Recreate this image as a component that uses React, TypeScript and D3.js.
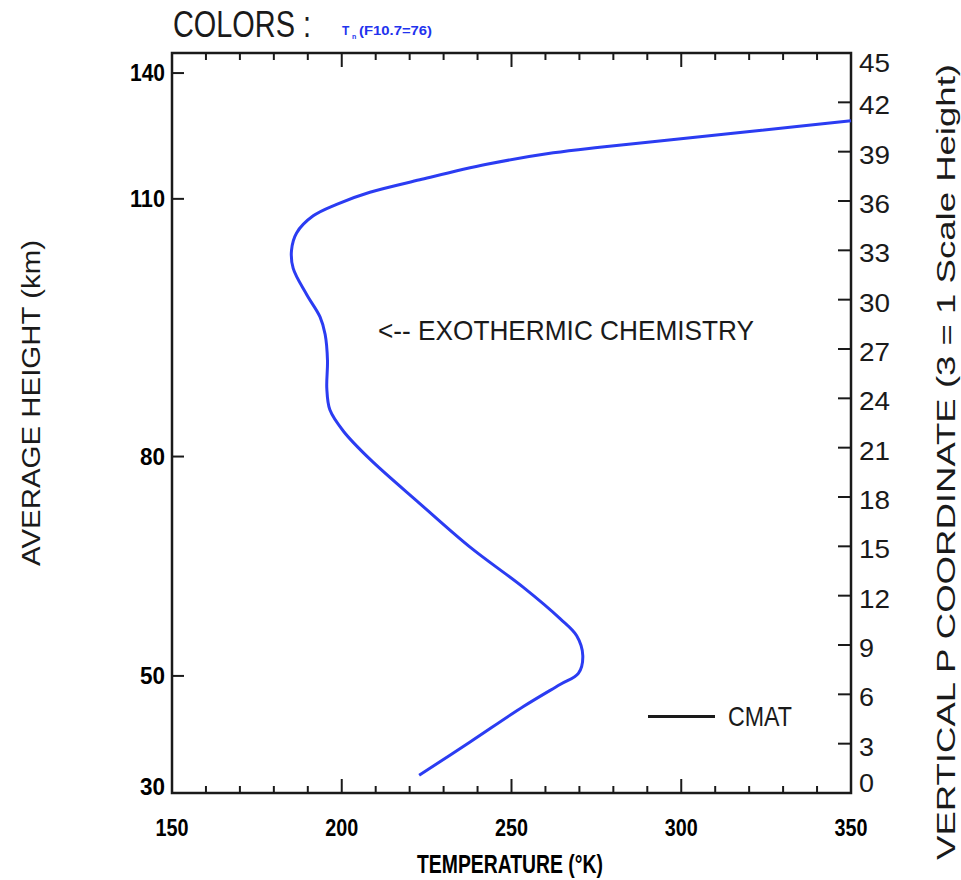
import React from "react";
import * as d3 from "d3";

// Temperature profile: vertical pressure coordinate vs temperature (K)
const pCoord = [
  1.08, 3.1, 5.26, 6.6, 7.27, 8.35, 9.56, 10.6, 12.5, 14.95, 17.6, 20.3, 22.0,
  23.3, 24.6, 26.3, 27.9, 28.95, 30.3, 31.9, 33.0, 34.06, 35.1, 35.8, 36.53,
  37.29, 38.23, 38.93, 39.27, 39.9, 40.29, 40.88,
];
const tempK = [
  222.8, 237.8, 253.5, 264.3, 269.7, 271.0, 269.2, 264.3, 253.5, 237.8, 223.0,
  208.3, 200.5, 196.5, 195.6, 195.8, 195.1, 193.6, 189.7, 185.7, 185.2, 186.7,
  191.6, 198.5, 208.3, 223.0, 242.7, 262.3, 276.0, 305.5, 323.0, 350.0,
];

// Axis ticks
const tempTicks = [150, 200, 250, 300, 350];
const tempMinor = d3.range(150, 351, 10);
const pTicks = d3.range(0, 46, 3);
const heightTicks = [30, 50, 80, 110, 140];
const heightTickP = [0, 7.12, 20.46, 36.13, 43.78];

const W = 961;
const H = 880;
const left = 172;
const right = 851;
const top = 53;
const bottom = 793;

const x = d3.scaleLinear().domain([150, 350]).range([left, right]);
const y = d3.scaleLinear().domain([0, 45]).range([bottom, top]);

const profile = pCoord.map((p, i) => ({ p, t: tempK[i] }));
const line = d3
  .line<{ p: number; t: number }>()
  .x((d) => x(d.t))
  .y((d) => y(d.p))
  .curve(d3.curveCatmullRom.alpha(0.5));

const thin = "'Liberation Sans', Arial, sans-serif";
const ink = "#1a1a1a";

export default function App() {
  return (
    <svg
      width={W}
      height={H}
      viewBox={`0 0 ${W} ${H}`}
      style={{ position: "absolute", left: 0, top: 0, background: "#fff" }}
    >
      {/* header */}
      <text
        transform="translate(173,37) scale(1,1.3)"
        fontFamily={thin}
        fontSize={28}
        fill={ink}
        textLength={138}
        lengthAdjust="spacingAndGlyphs"
      >
        COLORS :
      </text>
      <text x={342} y={35} fontFamily={thin} fontSize={12} fontWeight="bold" fill="#2233ee">
        T
      </text>
      <text x={352} y={39} fontFamily={thin} fontSize={7} fontWeight="bold" fill="#2233ee">
        n
      </text>
      <text
        x={359}
        y={35}
        fontFamily={thin}
        fontSize={12}
        fontWeight="bold"
        fill="#2233ee"
        textLength={73}
        lengthAdjust="spacingAndGlyphs"
      >
        (F10.7=76)
      </text>

      {/* frame */}
      <rect
        x={left}
        y={top}
        width={right - left}
        height={bottom - top}
        fill="none"
        stroke={ink}
        strokeWidth={2.5}
      />

      {/* bottom and top temperature ticks */}
      {tempMinor.map((t) => {
        const major = tempTicks.includes(t);
        const len = major ? 14 : 7;
        return (
          <g key={t}>
            <line x1={x(t)} x2={x(t)} y1={bottom} y2={bottom - len} stroke={ink} strokeWidth={2} />
            <line x1={x(t)} x2={x(t)} y1={top} y2={top + len} stroke={ink} strokeWidth={2} />
          </g>
        );
      })}
      {tempTicks.map((t) => (
        <text
          key={t}
          x={x(t)}
          y={836}
          textAnchor="middle"
          fontFamily={thin}
          fontWeight="bold"
          fontSize={24}
          fill="#000"
          textLength={33}
          lengthAdjust="spacingAndGlyphs"
        >
          {t}
        </text>
      ))}
      <text
        x={417}
        y={873}
        fontFamily={thin}
        fontWeight="bold"
        fontSize={25}
        fill="#000"
        textLength={186}
        lengthAdjust="spacingAndGlyphs"
      >
        TEMPERATURE (°K)
      </text>

      {/* left height axis */}
      {heightTicks.map((h, i) => {
        const yy = y(heightTickP[i]);
        const ly = i === 0 ? yy - 6 : yy;
        return (
          <g key={h}>
            {i > 0 && (
              <line x1={left} x2={left + 12} y1={yy} y2={yy} stroke={ink} strokeWidth={2} />
            )}
            <text
              x={165}
              y={ly + 8}
              textAnchor="end"
              fontFamily={thin}
              fontWeight="bold"
              fontSize={24}
              fill="#000"
              textLength={String(h).length === 3 ? 35 : 25}
              lengthAdjust="spacingAndGlyphs"
            >
              {h}
            </text>
          </g>
        );
      })}
      <text
        transform="translate(40,403) rotate(-90)"
        textAnchor="middle"
        fontFamily={thin}
        fontSize={26}
        fill={ink}
        textLength={326}
        lengthAdjust="spacingAndGlyphs"
      >
        AVERAGE HEIGHT (km)
      </text>

      {/* right pressure-coordinate axis */}
      {pTicks.map((p) => {
        const yy = y(p);
        const ly = p === 0 ? yy - 10 : p === 45 ? yy + 10 : yy + 3;
        return (
          <g key={p}>
            {p > 0 && p < 45 && (
              <line x1={right} x2={right - 13} y1={yy} y2={yy} stroke={ink} strokeWidth={2} />
            )}
            <text
              x={859}
              y={ly + 9}
              fontFamily={thin}
              fontSize={26}
              fill={ink}
              textLength={String(p).length === 2 ? 31 : 15}
              lengthAdjust="spacingAndGlyphs"
            >
              {p}
            </text>
          </g>
        );
      })}
      <text
        transform="translate(955,462) rotate(-90)"
        textAnchor="middle"
        fontFamily={thin}
        fontSize={26}
        fill={ink}
        textLength={796}
        lengthAdjust="spacingAndGlyphs"
      >
        VERTICAL P COORDINATE (3 = 1 Scale Height)
      </text>

      {/* profile */}
      <path d={line(profile) ?? ""} fill="none" stroke="#2b3cf2" strokeWidth={3} strokeLinejoin="round" />

      {/* annotation */}
      <text
        x={378}
        y={340}
        fontFamily={thin}
        fontSize={28}
        fill={ink}
        textLength={376}
        lengthAdjust="spacingAndGlyphs"
      >
        {"<-- EXOTHERMIC CHEMISTRY"}
      </text>

      {/* legend */}
      <line x1={648} x2={715} y1={716.5} y2={716.5} stroke={ink} strokeWidth={3} />
      <text
        x={728}
        y={726}
        fontFamily={thin}
        fontSize={28}
        fill={ink}
        textLength={64}
        lengthAdjust="spacingAndGlyphs"
      >
        CMAT
      </text>
    </svg>
  );
}
